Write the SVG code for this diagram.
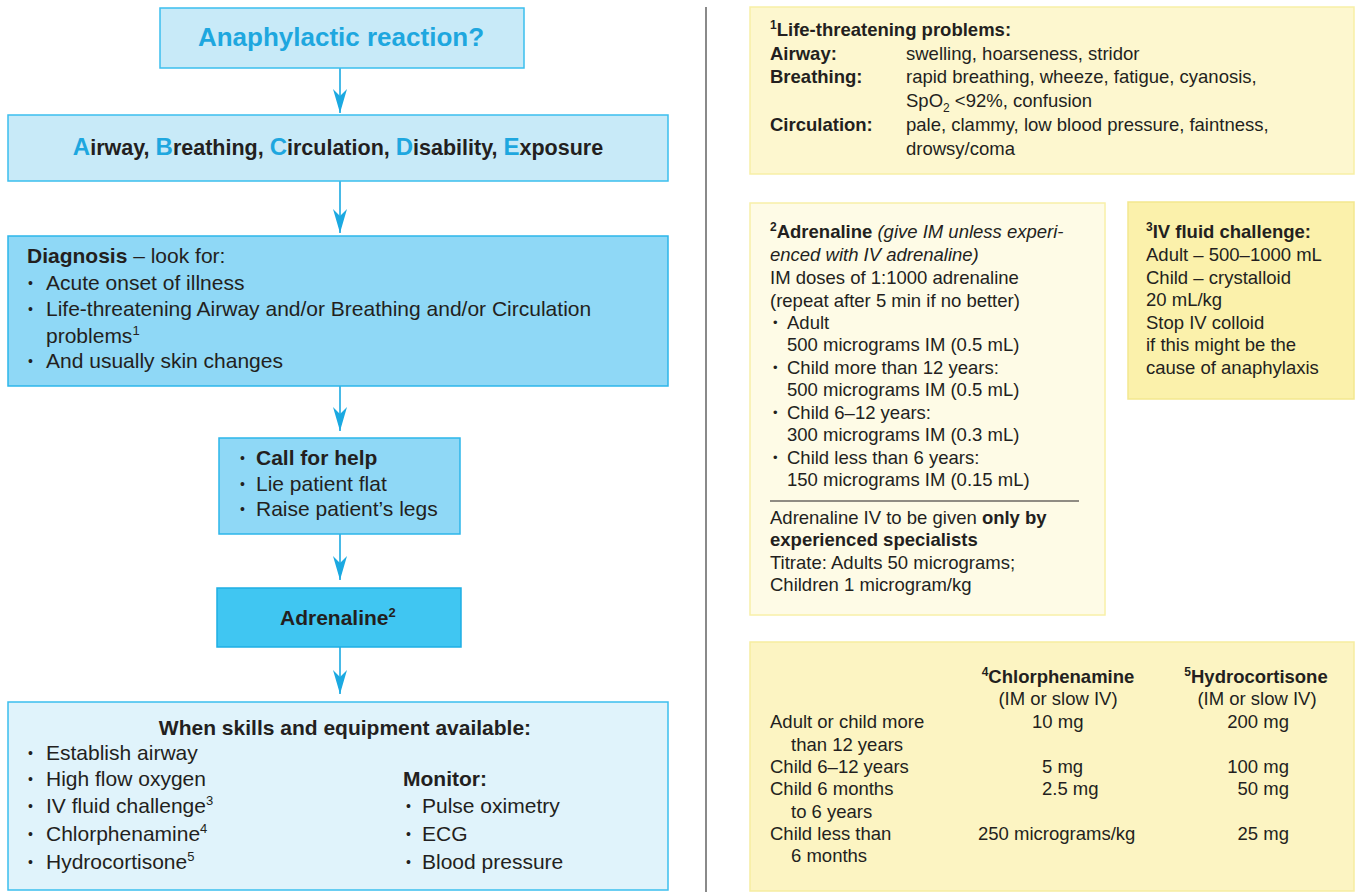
<svg xmlns="http://www.w3.org/2000/svg" width="1356" height="894" viewBox="0 0 1356 894">
<defs>
<style>
text{font-family:"Liberation Sans",Arial,sans-serif;fill:#231f20}
.l{font-size:21px}
.r{font-size:18.5px}
.b{font-weight:bold}
.i{font-style:italic}
.m{text-anchor:middle}
.e{text-anchor:end}
.bl{fill:#1ea7df}
.dl{font-size:14px}
.dr{font-size:13px}
.lb{fill:#c8eaf8;stroke:#3bbfee;stroke-width:1.5}
.mb{fill:#8fd8f6;stroke:#2db6ea;stroke-width:1.5}
.db{fill:#40c6f2;stroke:#1eaee4;stroke-width:1.5}
.pb{fill:#e0f3fb;stroke:#3bbfee;stroke-width:1.5}
.y1{fill:#fdf7cf;stroke:#f7efa6;stroke-width:1.5}
.y2{fill:#fefbe6;stroke:#f8f0a8;stroke-width:1.5}
.y3{fill:#fbf1ab;stroke:#f3e78f;stroke-width:1.5}
.y4{fill:#fcf4c2;stroke:#f6eda0;stroke-width:1.5}
.conn{stroke:#1ba9e1;stroke-width:1.6;fill:none;marker-end:url(#ah)}
</style>
<marker id="ah" markerUnits="userSpaceOnUse" markerWidth="24" markerHeight="14" refX="24" refY="7" orient="auto" viewBox="0 0 24 14">
<path d="M0,0 L7,7 L0,14 L24,7 Z" fill="#1ba9e1"/>
</marker>
</defs>

<g id="connectors">
<line class="conn" x1="340" y1="68" x2="340" y2="113"/>
<line class="conn" x1="340" y1="181" x2="340" y2="233"/>
<line class="conn" x1="340" y1="386" x2="340" y2="431"/>
<line class="conn" x1="340" y1="534" x2="340" y2="580"/>
<line class="conn" x1="340" y1="647" x2="340" y2="694"/>
</g>

<g id="n-anaphylactic">
<rect class="lb" x="160" y="8" width="364" height="60"/>
<text class="b m bl" x="341" y="46" font-size="26">Anaphylactic reaction?</text>
</g>

<g id="n-abcde">
<rect class="lb" x="8" y="115" width="660" height="66"/>
<text class="b m" x="338" y="155" font-size="21.5"><tspan class="bl" font-size="24">A</tspan>irway, <tspan class="bl" font-size="24">B</tspan>reathing, <tspan class="bl" font-size="24">C</tspan>irculation, <tspan class="bl" font-size="24">D</tspan>isability, <tspan class="bl" font-size="24">E</tspan>xposure</text>
</g>

<g id="n-diagnosis">
<rect class="mb" x="8" y="236" width="660" height="150"/>
<text class="l" x="27" y="263"><tspan class="b">Diagnosis</tspan> – look for:</text>
<text class="dl" x="28" y="288">•</text><text class="l" x="46" y="290">Acute onset of illness</text>
<text class="dl" x="28" y="314">•</text><text class="l" x="46" y="316">Life-threatening Airway and/or Breathing and/or Circulation</text>
<text class="l" x="46" y="343">problems<tspan dy="-8" font-size="13">1</tspan></text>
<text class="dl" x="28" y="366">•</text><text class="l" x="46" y="368">And usually skin changes</text>
</g>

<g id="n-callhelp">
<rect class="mb" x="219" y="438" width="241" height="96"/>
<text class="dl" x="240" y="463">•</text><text class="l b" x="256" y="465">Call for help</text>
<text class="dl" x="240" y="489">•</text><text class="l" x="256" y="491">Lie patient flat</text>
<text class="dl" x="240" y="514">•</text><text class="l" x="256" y="516">Raise patient’s legs</text>
</g>

<g id="n-adrenaline">
<rect class="db" x="217" y="588" width="244" height="59"/>
<text class="l b" x="280" y="625">Adrenaline<tspan dy="-8" font-size="13">2</tspan></text>
</g>

<g id="n-skills">
<rect class="pb" x="8" y="702" width="660" height="188"/>
<text class="l b m" x="345" y="735">When skills and equipment available:</text>
<text class="dl" x="28" y="758">•</text><text class="l" x="46" y="760">Establish airway</text>
<text class="dl" x="28" y="784">•</text><text class="l" x="46" y="786">High flow oxygen</text>
<text class="dl" x="28" y="811">•</text><text class="l" x="46" y="813">IV fluid challenge<tspan dy="-8" font-size="13">3</tspan></text>
<text class="dl" x="28" y="839">•</text><text class="l" x="46" y="841">Chlorphenamine<tspan dy="-8" font-size="13">4</tspan></text>
<text class="dl" x="28" y="867">•</text><text class="l" x="46" y="869">Hydrocortisone<tspan dy="-8" font-size="13">5</tspan></text>
<text class="l b" x="403" y="786">Monitor:</text>
<text class="dl" x="406" y="811">•</text><text class="l" x="422" y="813">Pulse oximetry</text>
<text class="dl" x="406" y="839">•</text><text class="l" x="422" y="841">ECG</text>
<text class="dl" x="406" y="867">•</text><text class="l" x="422" y="869">Blood pressure</text>
</g>

<line x1="706" y1="7" x2="706" y2="892" stroke="#8a8a8a" stroke-width="2"/>

<g id="n-lifethreat">
<rect class="y1" x="750" y="7" width="604" height="167"/>
<text class="r b" x="770" y="36"><tspan font-size="12" dy="-7">1</tspan><tspan dy="7">Life-threatening problems:</tspan></text>
<text class="r b" x="770" y="60">Airway:</text><text class="r" x="906" y="60">swelling, hoarseness, stridor</text>
<text class="r b" x="770" y="83">Breathing:</text><text class="r" x="906" y="83">rapid breathing, wheeze, fatigue, cyanosis,</text>
<text class="r" x="906" y="107">SpO<tspan dy="5" font-size="12">2</tspan><tspan dy="-5"> &lt;92%, confusion</tspan></text>
<text class="r b" x="770" y="131">Circulation:</text><text class="r" x="906" y="131">pale, clammy, low blood pressure, faintness,</text>
<text class="r" x="906" y="155">drowsy/coma</text>
</g>

<g id="n-adrenaline-dose">
<rect class="y2" x="750" y="203" width="355" height="412"/>
<text class="r" x="770" y="238"><tspan class="b" font-size="12" dy="-7">2</tspan><tspan class="b" dy="7">Adrenaline</tspan><tspan class="i"> (give IM unless experi-</tspan></text>
<text class="r i" x="770" y="261">enced with IV adrenaline)</text>
<text class="r" x="770" y="284">IM doses of 1:1000 adrenaline</text>
<text class="r" x="770" y="307">(repeat after 5 min if no better)</text>
<text class="dr" x="773" y="327">•</text><text class="r" x="787" y="329">Adult</text>
<text class="r" x="787" y="351">500 micrograms IM (0.5 mL)</text>
<text class="dr" x="773" y="372">•</text><text class="r" x="787" y="374">Child more than 12 years:</text>
<text class="r" x="787" y="396">500 micrograms IM (0.5 mL)</text>
<text class="dr" x="773" y="417">•</text><text class="r" x="787" y="419">Child 6–12 years:</text>
<text class="r" x="787" y="441">300 micrograms IM (0.3 mL)</text>
<text class="dr" x="773" y="462">•</text><text class="r" x="787" y="464">Child less than 6 years:</text>
<text class="r" x="787" y="486">150 micrograms IM (0.15 mL)</text>
<line x1="770" y1="501" x2="1079" y2="501" stroke="#231f20" stroke-width="1.2"/>
<text class="r" x="770" y="524">Adrenaline IV to be given <tspan class="b">only by</tspan></text>
<text class="r b" x="770" y="546">experienced specialists</text>
<text class="r" x="770" y="569">Titrate: Adults 50 micrograms;</text>
<text class="r" x="770" y="591">Children 1 microgram/kg</text>
</g>

<g id="n-ivfluid">
<rect class="y3" x="1128" y="202" width="226" height="197"/>
<text class="r b" x="1146" y="238"><tspan font-size="12" dy="-7">3</tspan><tspan dy="7">IV fluid challenge:</tspan></text>
<text class="r" x="1146" y="261">Adult – 500–1000 mL</text>
<text class="r" x="1146" y="284">Child – crystalloid</text>
<text class="r" x="1146" y="306">20 mL/kg</text>
<text class="r" x="1146" y="329">Stop IV colloid</text>
<text class="r" x="1146" y="351">if this might be the</text>
<text class="r" x="1146" y="374">cause of anaphylaxis</text>
</g>

<g id="n-doses">
<rect class="y4" x="750" y="642" width="604" height="249"/>
<text class="r b m" x="1058" y="683"><tspan font-size="12" dy="-7">4</tspan><tspan dy="7">Chlorphenamine</tspan></text>
<text class="r m" x="1058" y="705">(IM or slow IV)</text>
<text class="r b m" x="1256" y="683"><tspan font-size="12" dy="-7">5</tspan><tspan dy="7">Hydrocortisone</tspan></text>
<text class="r m" x="1257" y="705">(IM or slow IV)</text>
<text class="r" x="770" y="728">Adult or child more</text>
<text class="r" x="791" y="751">than 12 years</text>
<text class="r" x="770" y="773">Child 6–12 years</text>
<text class="r" x="770" y="795">Child 6 months</text>
<text class="r" x="791" y="818">to 6 years</text>
<text class="r" x="770" y="840">Child less than</text>
<text class="r" x="791" y="862">6 months</text>
<text class="r" x="1032" y="728">10 mg</text>
<text class="r" x="1042" y="773">5 mg</text>
<text class="r" x="1042" y="795">2.5 mg</text>
<text class="r" x="978" y="840">250 micrograms/kg</text>
<text class="r e" x="1289" y="728">200 mg</text>
<text class="r e" x="1289" y="773">100 mg</text>
<text class="r e" x="1289" y="795">50 mg</text>
<text class="r e" x="1289" y="840">25 mg</text>
</g>
</svg>
